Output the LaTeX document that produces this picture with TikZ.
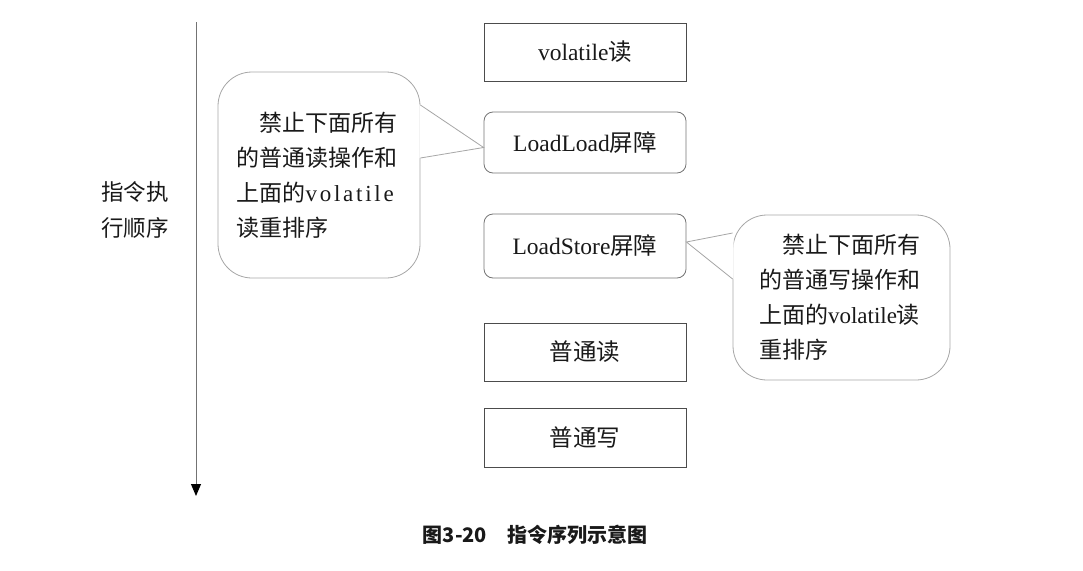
\documentclass[tikz,border=0pt]{standalone}
\usepackage{fontspec}
\setmainfont{Liberation Serif}
\newfontfamily\cjk{Noto Sans CJK SC}
\newfontfamily\wideserif[LetterSpace=12]{Liberation Serif}
\usetikzlibrary{arrows.meta}
\newcommand\zh[1]{{\cjk #1}}

\begin{document}
\begin{tikzpicture}[x=1pt, y=-1pt, font=\fontsize{23.5}{28}\selectfont, text=black!90,
  box/.style={draw=black!70, line width=0.8pt, minimum width=202pt, minimum height=58pt, inner sep=0pt},
  barrier/.style={box, draw=black!55, rounded corners=9pt},
  bubble/.style={draw=black!35, line width=0.8pt, rounded corners=34pt, inner sep=0pt,
    text width=165pt, align=left, font=\fontsize{23}{35}\selectfont},
  pointer/.style={draw=black!35, line width=0.8pt}]
  \useasboundingbox (0,0) rectangle (1083,570);
  % time axis
  \coordinate (top) at (196,22);
  \coordinate (bot) at (196,496);
  \draw[black!55, line width=1pt, -{Triangle[color=black, length=12pt, width=10pt]}] (top) -- (bot);
  \node[font=\cjk\fontsize{22.5}{36}\selectfont, align=center] (order) at (135,210) {指令执\\行顺序};
  % instruction sequence
  \node[box] (vread) at (585,52) {volatile\zh{读}};
  \node[barrier, minimum height=61pt] (llbar) at (585,142.5) {LoadLoad\zh{屏障}};
  \node[barrier, minimum height=64pt] (lsbar) at (585,246) {LoadStore\zh{屏障}};
  \node[box] (nread) at (585,352) {\zh{普通读}};
  \node[box, minimum height=59pt] (nwrite) at (585,437.5) {\zh{普通写}};
  % callouts
  \node[bubble, minimum width=202pt, minimum height=206pt] (noteL) at (319,175)
    {\hspace*{1em}\zh{禁止下面所有}\\\zh{的普通读操作和}\\\zh{上面的}{\wideserif volatile}\\\zh{读重排序}};
  \coordinate (pL1) at ([yshift=70pt]noteL.east);
  \coordinate (pL2) at ([yshift=17pt]noteL.east);
  \fill[white] ([xshift=-1pt]pL1) -- (pL1) -- ([yshift=-5pt]llbar.west) -- (pL2) -- ([xshift=-1pt]pL2) -- cycle;
  \draw[pointer] (pL1) -- ([yshift=-5pt]llbar.west) -- (pL2);
  \node[bubble, minimum width=217pt, minimum height=165pt] (noteR) at (841.5,297.5)
    {\hspace*{1em}\zh{禁止下面所有}\\\zh{的普通写操作和}\\\zh{上面的}volatile\zh{读}\\\zh{重排序}};
  \coordinate (pR1) at ([yshift=64.5pt]noteR.west);
  \coordinate (pR2) at ([yshift=18.5pt]noteR.west);
  \fill[white] ([xshift=1pt]pR1) -- (pR1) -- ([yshift=4pt]lsbar.east) -- (pR2) -- ([xshift=1pt]pR2) -- cycle;
  \draw[pointer] (pR1) -- ([yshift=4pt]lsbar.east) -- (pR2);
  % caption
  \node[font=\cjk\bfseries\fontsize{20}{24}\selectfont] (cap) at (535,535) {图3-20\hspace{1em}指令序列示意图};
\end{tikzpicture}
\end{document}
